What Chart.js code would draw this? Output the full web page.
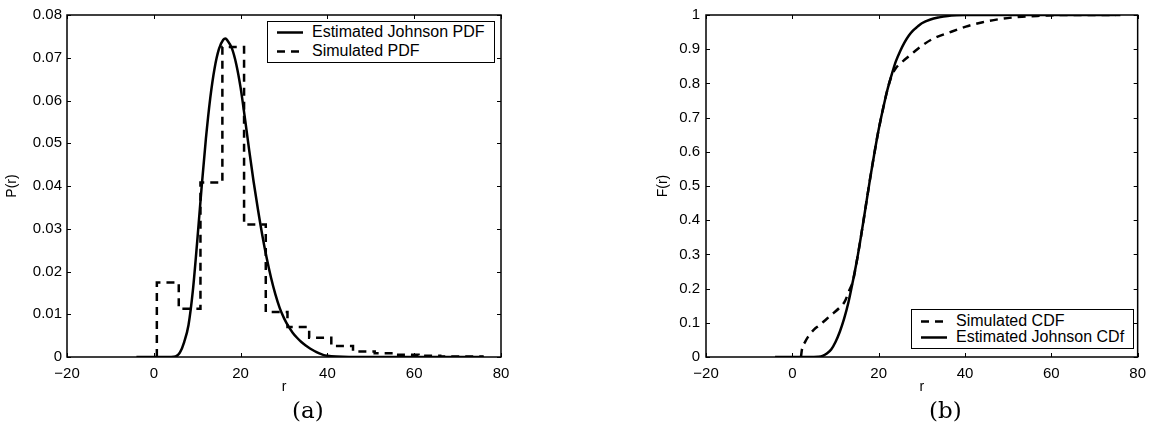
<!DOCTYPE html>
<html>
<head>
<meta charset="utf-8">
<script src="https://cdn.jsdelivr.net/npm/chart.js@4.4.0/dist/chart.umd.min.js"></script>
<style>
body { margin: 0; background: #fff; width: 1154px; height: 438px; position: relative; overflow: hidden; font-family: "Liberation Sans", Arial, sans-serif; }
.wrap { position: absolute; top: 0; height: 438px; }
#wrapA { left: 0; width: 540px; }
#wrapB { left: 600px; width: 554px; }
.legend { position: absolute; background: #fff; border: 1.5px solid #000; box-sizing: border-box; font-size: 16px; color: #000; }
.legend .item { position: absolute; left: 0; height: 18px; line-height: 18px; white-space: nowrap; }
.legend svg { position: absolute; top: 0; }
.legend span { position: absolute; top: 0; }
.caption { position: absolute; font-family: "DejaVu Serif", "Liberation Serif", serif; font-size: 23px; color: #000; }
</style>
</head>
<body>
<div class="wrap" id="wrapA"><canvas id="pdfChart"></canvas></div>
<div class="wrap" id="wrapB"><canvas id="cdfChart"></canvas></div>
<div class="caption" style="left:292px; top:397px;">(a)</div>
<div class="caption" style="left:929px; top:397px;">(b)</div>
<div class="legend" id="legendA" style="left:267px; top:21px; width:228px; height:42px;"></div>
<div class="legend" id="legendB" style="left:911px; top:309px; width:223px; height:40px;"></div>

<script>
// Johnson PDF (solid)
const pdfR = [-4, 0, 4, 5, 6, 7, 8, 9, 10, 11, 12, 13, 14, 15, 16, 16.5, 17, 18, 19, 20, 21, 22, 23, 24, 25, 26, 27, 28, 29, 30, 31, 32, 33, 34, 35, 36, 37, 38, 39, 40, 42, 45, 50, 60, 76];
const pdfP = [0, 0, 0, 0.0001, 0.001, 0.0035, 0.0075, 0.0155, 0.027, 0.0395, 0.051, 0.0605, 0.0675, 0.072, 0.0742, 0.0745, 0.074, 0.0722, 0.0685, 0.063, 0.0558, 0.0482, 0.041, 0.0345, 0.0285, 0.0232, 0.0186, 0.0147, 0.0115, 0.0091, 0.0072, 0.0057, 0.0045, 0.0035, 0.0027, 0.002, 0.0014, 0.0009, 0.0005, 0.0003, 0.0001, 0, 0, 0, 0];

// simulated histogram (dashed): bin edges and bin heights
const histEdges = [0.7, 5.75, 10.75, 15.8, 20.8, 25.8, 30.8, 35.8, 40.9, 45.9, 50.9, 55.9, 61, 66, 71, 76];
const histP = [0.0174, 0.0113, 0.0408, 0.0725, 0.031, 0.0105, 0.007, 0.0045, 0.0026, 0.0013, 0.0009, 0.0005, 0.0003, 0.0001, 0.0001];

// panel (b)
const simCdfR = [2.0, 2.2, 3.0, 3.6, 5, 6.3, 8, 9.4, 11, 12.1, 13.2, 14, 15, 16, 17, 18, 19, 20, 21, 22, 23, 24, 25, 26, 28, 30, 32.5, 36.4, 40.2, 44.1, 48, 53.2, 58, 62, 75];
const simCdfF = [0, 0.02, 0.045, 0.058, 0.08, 0.093, 0.112, 0.127, 0.145, 0.161, 0.195, 0.22, 0.285, 0.36, 0.44, 0.52, 0.595, 0.665, 0.725, 0.78, 0.822, 0.845, 0.858, 0.869, 0.89, 0.91, 0.93, 0.949, 0.966, 0.979, 0.988, 0.995, 0.998, 1, 1];

const jCdfR = [-4, 5, 6, 7, 8, 9, 10, 11, 12, 13, 14, 15, 16, 17, 18, 19, 20, 21, 22, 23, 24, 25, 26, 27, 28, 29, 30, 32, 34, 36, 38, 40, 76];
const jCdfF = [0, 0, 0.0005, 0.003, 0.01, 0.022, 0.044, 0.074, 0.112, 0.16, 0.22, 0.285, 0.36, 0.44, 0.52, 0.595, 0.665, 0.725, 0.78, 0.825, 0.865, 0.895, 0.92, 0.94, 0.955, 0.966, 0.976, 0.987, 0.993, 0.997, 0.999, 1, 1];

const xTicks = [-20, 0, 20, 40, 60, 80];

const FONT = '"Liberation Sans", Arial, sans-serif';
Chart.defaults.color = '#000';
Chart.defaults.font.family = FONT;

function pts(xs, ys) {
    return xs.map((v, i) => ({ x: v, y: ys[i] }));
}

// stepped outline of the histogram
function histPts() {
    const out = [{ x: histEdges[0], y: 0 }];
    histP.forEach((p, i) => out.push({ x: histEdges[i], y: p }));
    out.push({ x: histEdges[histEdges.length - 1], y: histP[histP.length - 1] });
    return out;
}

// matlab style frame with inward ticks
const frame = {
    id: 'frame',
    afterDatasetsDraw(chart) {
        const { ctx, chartArea: a, scales: { x, y } } = chart;
        ctx.save();
        ctx.strokeStyle = '#000';
        ctx.lineWidth = 1;
        x.ticks.forEach(t => {
            const px = Math.round(x.getPixelForValue(t.value)) + 0.5;
            ctx.beginPath();
            ctx.moveTo(px, a.bottom); ctx.lineTo(px, a.bottom - 4);
            ctx.moveTo(px, a.top); ctx.lineTo(px, a.top + 4);
            ctx.stroke();
        });
        y.ticks.forEach(t => {
            const py = Math.round(y.getPixelForValue(t.value)) + 0.5;
            ctx.beginPath();
            ctx.moveTo(a.left, py); ctx.lineTo(a.left + 4, py);
            ctx.moveTo(a.right, py); ctx.lineTo(a.right - 4, py);
            ctx.stroke();
        });
        ctx.lineWidth = 1.5;
        ctx.strokeRect(a.left, a.top, a.width, a.height);
        ctx.restore();
    }
};

function lineSet(label, data, dashed, stepped) {
    return {
        label: label,
        data: data,
        borderColor: '#000',
        backgroundColor: '#000',
        borderWidth: 2.5,
        borderDash: dashed ? [8, 6] : [],
        pointRadius: 0,
        fill: false,
        stepped: stepped ? 'before' : false,
        cubicInterpolationMode: stepped ? 'default' : 'monotone'
    };
}

function makeOptions(yMax, yStep, yFmt, yTitle, yWidth, padLeft, padRight, tickPad) {
    return {
        responsive: true,
        maintainAspectRatio: false,
        animation: false,
        layout: { padding: { left: padLeft, right: padRight, top: 15, bottom: 0 } },
        plugins: { legend: { display: false }, tooltip: { enabled: false } },
        scales: {
            x: {
                type: 'linear',
                min: -20, max: 80,
                afterBuildTicks: s => { s.ticks = xTicks.map(v => ({ value: v })); },
                afterFit: s => { s.height = 81; },
                grid: { display: false, drawTicks: false },
                border: { display: false },
                ticks: {
                    padding: 8,
                    font: { size: 15 },
                    callback: v => (v < 0 ? '\u2212' + Math.abs(v) : String(v))
                },
                title: { display: true, text: 'r', font: { size: 14 }, padding: { top: 0, bottom: 42 } }
            },
            y: {
                type: 'linear',
                min: 0, max: yMax,
                afterFit: s => { s.width = yWidth; },
                grid: { display: false, drawTicks: false },
                border: { display: false },
                ticks: { stepSize: yStep, padding: tickPad, font: { size: 15 }, callback: yFmt },
                title: { display: true, text: yTitle, font: { size: 14 }, padding: { top: 4, bottom: 0 } }
            }
        }
    };
}

const pdfChart = new Chart(document.getElementById('pdfChart'), {
    type: 'line',
    data: {
        datasets: [
            lineSet('Estimated Johnson PDF', pts(pdfR, pdfP), false, false),
            lineSet('Simulated PDF', histPts(), true, true)
        ]
    },
    options: makeOptions(0.08, 0.01, v => (v === 0 ? '0' : v.toFixed(2)), 'P(r)', 67, 0, 39, 5),
    plugins: [frame]
});

const cdfChart = new Chart(document.getElementById('cdfChart'), {
    type: 'line',
    data: {
        datasets: [
            lineSet('Simulated CDF', pts(simCdfR, simCdfF), true, false),
            lineSet('Estimated Johnson CDf', pts(jCdfR, jCdfF), false, false)
        ]
    },
    options: makeOptions(1, 0.1, v => (v === 0 ? '0' : v === 1 ? '1' : v.toFixed(1)), 'F(r)', 55, 51, 15, 6),
    plugins: [frame]
});

// legends built from the dataset labels
function buildLegend(id, chart, rowTops) {
    const box = document.getElementById(id);
    chart.data.datasets.forEach((ds, i) => {
        const item = document.createElement('div');
        item.className = 'item';
        item.style.top = rowTops[i] + 'px';
        item.innerHTML =
            '<svg width="40" height="18" style="left:8px"><line x1="1" y1="9.5" x2="27" y2="9.5" stroke="#000" stroke-width="2.5"' +
            (ds.borderDash.length ? ' stroke-dasharray="8,6"' : '') + '/></svg>' +
            '<span style="left:44px">' + ds.label + '</span>';
        box.appendChild(item);
    });
}
buildLegend('legendA', pdfChart, [1, 20]);
buildLegend('legendB', cdfChart, [2, 18]);
</script>
</body>
</html>
